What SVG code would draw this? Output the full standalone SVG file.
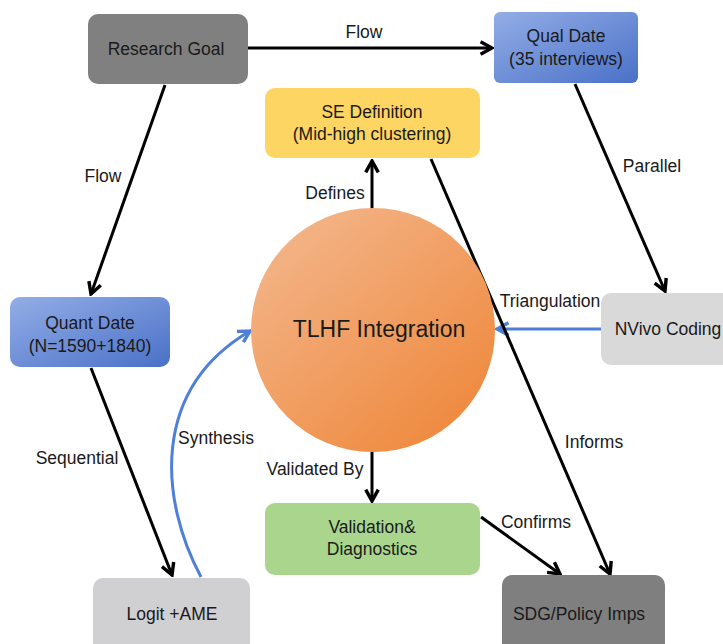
<svg xmlns="http://www.w3.org/2000/svg" width="723" height="644" viewBox="0 0 723 644">
  <defs>
    <linearGradient id="blueGrad" x1="0" y1="0" x2="1" y2="1">
      <stop offset="0" stop-color="#93ade6"/>
      <stop offset="1" stop-color="#4a71c8"/>
    </linearGradient>
    <linearGradient id="orangeGrad" x1="0.15" y1="0.1" x2="0.85" y2="0.9">
      <stop offset="0" stop-color="#f3b386"/>
      <stop offset="1" stop-color="#ef8a3f"/>
    </linearGradient>
    <marker id="arrowBlack" viewBox="0 0 14 14" refX="12" refY="7" markerWidth="16" markerHeight="16" markerUnits="userSpaceOnUse" orient="auto">
      <path d="M2,1.5 L12,7 L2,12.5" fill="none" stroke="#000" stroke-width="3" stroke-linejoin="miter"/>
    </marker>
    <marker id="arrowBlue" viewBox="0 0 14 14" refX="12" refY="7" markerWidth="16" markerHeight="16" markerUnits="userSpaceOnUse" orient="auto">
      <path d="M2,1.5 L12,7 L2,12.5" fill="none" stroke="#4f7fd9" stroke-width="3" stroke-linejoin="miter"/>
    </marker>
  </defs>
  <style>
    .lbl { font-family: "Liberation Sans", Arial, Helvetica, sans-serif; font-size: 17.5px; fill: #1a1a1a; text-anchor: middle; }
    .node-text { font-family: "Liberation Sans", Arial, Helvetica, sans-serif; font-size: 17.5px; fill: #1a1a1a; text-anchor: middle; }
    .big { font-size: 23px; }
    .edge { fill: none; stroke: #000; stroke-width: 3; marker-end: url(#arrowBlack); }
    .edge-blue { fill: none; stroke: #4f7fd9; stroke-width: 3; marker-end: url(#arrowBlue); }
  </style>
  <rect width="723" height="644" fill="#ffffff"/>

  <!-- connectors -->
  <g id="connectors">
    <line class="edge" x1="248" y1="48" x2="492" y2="48"/>
    <text class="lbl" x="364" y="38">Flow</text>

    <line class="edge" x1="165" y1="85" x2="91" y2="294"/>
    <text class="lbl" x="103" y="182">Flow</text>

    <line class="edge" x1="575" y1="84" x2="665" y2="291"/>
    <text class="lbl" x="652" y="172">Parallel</text>

    <line class="edge-blue" x1="601" y1="329" x2="497" y2="329"/>
    <text class="lbl" x="550" y="307">Triangulation</text>

    <line class="edge" x1="372" y1="211" x2="372" y2="161"/>
    <text class="lbl" x="335" y="199">Defines</text>

    <line class="edge" x1="431" y1="159" x2="610" y2="574"/>
    <text class="lbl" x="594" y="448">Informs</text>

    <line class="edge" x1="372" y1="452" x2="372" y2="501"/>
    <text class="lbl" x="315" y="475">Validated By</text>

    <line class="edge" x1="481" y1="517" x2="560" y2="574"/>
    <text class="lbl" x="536" y="528">Confirms</text>

    <line class="edge" x1="91" y1="368" x2="172" y2="575"/>
    <text class="lbl" x="77" y="464">Sequential</text>

    <path class="edge-blue" d="M201,577 C160,500 150,390 250,331"/>
    <text class="lbl" x="216" y="444">Synthesis</text>
  </g>

  <!-- nodes -->
  <g id="research-goal">
    <rect x="88" y="14" width="160" height="70" rx="10" fill="#808080"/>
    <text class="node-text" x="166" y="55">Research Goal</text>
  </g>

  <g id="qual-date">
    <rect x="494" y="12" width="144" height="71" rx="6" fill="url(#blueGrad)"/>
    <text class="node-text" x="566" y="42">Qual Date</text>
    <text class="node-text" x="566" y="65">(35 interviews)</text>
  </g>

  <g id="se-definition">
    <rect x="265" y="88" width="215" height="70" rx="10" fill="#fdd562"/>
    <text class="node-text" x="372" y="118">SE Definition</text>
    <text class="node-text" x="372" y="140">(Mid-high clustering)</text>
  </g>

  <g id="quant-date">
    <rect x="10" y="297" width="160" height="70" rx="10" fill="url(#blueGrad)"/>
    <text class="node-text" x="90" y="329">Quant Date</text>
    <text class="node-text" x="90" y="352">(N=1590+1840)</text>
  </g>

  <g id="nvivo-coding">
    <rect x="601" y="293" width="132" height="72" rx="10" fill="#d9d9d9"/>
    <text class="node-text" x="668" y="335">NVivo Coding</text>
  </g>

  <g id="tlhf-integration">
    <circle cx="373" cy="330" r="122" fill="url(#orangeGrad)"/>
    <text class="node-text big" x="379" y="337">TLHF Integration</text>
  </g>

  <g id="validation">
    <rect x="265" y="503" width="215" height="72" rx="10" fill="#a9d68c"/>
    <text class="node-text" x="372" y="533">Validation&amp;</text>
    <text class="node-text" x="372" y="555">Diagnostics</text>
  </g>

  <g id="logit-ame">
    <rect x="93" y="578" width="157" height="76" rx="10" fill="#d0cfd2"/>
    <text class="node-text" x="172" y="620">Logit +AME</text>
  </g>

  <g id="sdg-policy">
    <rect x="502" y="575" width="163" height="79" rx="10" fill="#7f7f7f"/>
    <text class="node-text" x="579" y="620">SDG/Policy Imps</text>
  </g>
</svg>
